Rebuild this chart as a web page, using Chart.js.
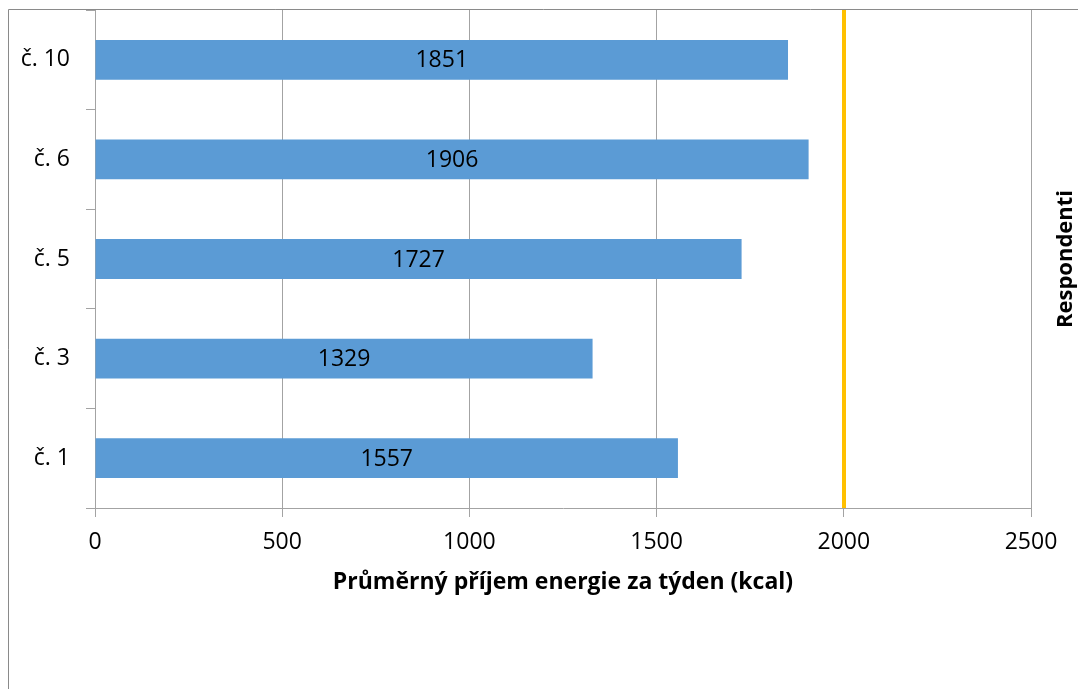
<!DOCTYPE html>
<html>
<head>
<meta charset="utf-8">
<title>Průměrný příjem energie za týden</title>
<script src="https://cdn.jsdelivr.net/npm/chart.js@4/dist/chart.umd.min.js"></script>
<style>
  html, body { margin: 0; padding: 0; background: #ffffff; }
  #wrap { width: 1078px; height: 689px; position: relative; }
</style>
</head>
<body>
<div id="wrap"><canvas id="chart" width="1078" height="689"></canvas></div>
<script>
// Respondents (top to bottom) and their average weekly energy intake
const categories = ['č. 10', 'č. 6', 'č. 5', 'č. 3', 'č. 1'];
const energyKcal = [1851, 1906, 1727, 1329, 1557];
const xTickValues = [0, 500, 1000, 1500, 2000, 2500];
const referenceKcal = 2000;
const xAxisTitle = 'Průměrný příjem energie za týden (kcal)';
const yAxisTitle = 'Respondenti';

const FONT = '"Open Sans", "Noto Sans", sans-serif';
const GRID = '#a3a3a3';

// White background and the outer frame
const framePlugin = {
  id: 'frame',
  beforeDraw(chart) {
    const ctx = chart.ctx;
    ctx.save();
    ctx.fillStyle = '#ffffff';
    ctx.fillRect(0, 0, chart.width, chart.height);
    ctx.strokeStyle = '#8a8a8a';
    ctx.lineWidth = 1;
    ctx.beginPath();
    ctx.moveTo(8.5, chart.height);
    ctx.lineTo(8.5, 9.5);
    ctx.lineTo(chart.width, 9.5);
    ctx.stroke();
    ctx.restore();
  }
};

// Reference line, value labels in the bars and the rotated respondent title
const overlayPlugin = {
  id: 'overlay',
  afterDatasetsDraw(chart) {
    const ctx = chart.ctx;
    const area = chart.chartArea;
    const xs = chart.scales.x;
    ctx.save();

    const xr = Math.round(xs.getPixelForValue(referenceKcal));
    ctx.strokeStyle = '#ffc000';
    ctx.lineWidth = 4;
    ctx.beginPath();
    ctx.moveTo(xr, area.top);
    ctx.lineTo(xr, area.bottom);
    ctx.stroke();

    ctx.fillStyle = '#000000';
    ctx.font = '23px ' + FONT;
    ctx.textAlign = 'center';
    ctx.textBaseline = 'middle';
    const meta = chart.getDatasetMeta(0);
    meta.data.forEach((bar, i) => {
      const v = chart.data.datasets[0].data[i];
      ctx.fillText(String(v), (bar.x + bar.base) / 2, bar.y + 1);
    });

    ctx.font = 'bold 22px ' + FONT;
    ctx.translate(1066, (area.top + area.bottom) / 2);
    ctx.rotate(-Math.PI / 2);
    ctx.fillText(yAxisTitle, 0, 0);
    ctx.restore();
  }
};

function clearScalePadding(scale) {
  scale.paddingTop = 0;
  scale.paddingBottom = 0;
  scale.paddingLeft = 0;
  scale.paddingRight = 0;
}

new Chart(document.getElementById('chart'), {
  type: 'bar',
  data: {
    labels: categories,
    datasets: [{
      data: energyKcal,
      backgroundColor: '#5b9bd5',
      borderWidth: 0,
      categoryPercentage: 0.8,
      barPercentage: 0.5
    }]
  },
  options: {
    indexAxis: 'y',
    responsive: false,
    animation: false,
    devicePixelRatio: 1,
    layout: { padding: { left: 0, top: 10, right: 47, bottom: 0 } },
    plugins: {
      legend: { display: false },
      tooltip: { enabled: false },
      title: { display: false }
    },
    scales: {
      x: {
        type: 'linear',
        position: 'bottom',
        min: 0,
        max: 2500,
        afterBuildTicks(scale) { scale.ticks = xTickValues.map(v => ({ value: v })); },
        afterFit(scale) { scale.height = 181; clearScalePadding(scale); },
        grid: { color: GRID, lineWidth: 1, drawTicks: true, tickLength: 9, tickColor: GRID },
        border: { display: true, color: GRID, width: 1 },
        ticks: {
          color: '#000000',
          font: { family: FONT, size: 23 },
          padding: 12,
          callback: (v) => String(v)
        },
        title: {
          display: true,
          text: xAxisTitle,
          color: '#000000',
          font: { family: FONT, size: 23, weight: 'bold' },
          padding: { top: 0, bottom: 93 }
        }
      },
      y: {
        type: 'category',
        position: 'left',
        afterFit(scale) { scale.width = 95; clearScalePadding(scale); },
        grid: { display: true, drawOnChartArea: false, drawTicks: true, tickLength: 9, color: GRID, tickColor: GRID, offset: true },
        border: { display: true, color: GRID, width: 1 },
        ticks: { color: '#000000', font: { family: FONT, size: 23 }, padding: 16 }
      }
    }
  },
  plugins: [framePlugin, overlayPlugin]
});
</script>
</body>
</html>
